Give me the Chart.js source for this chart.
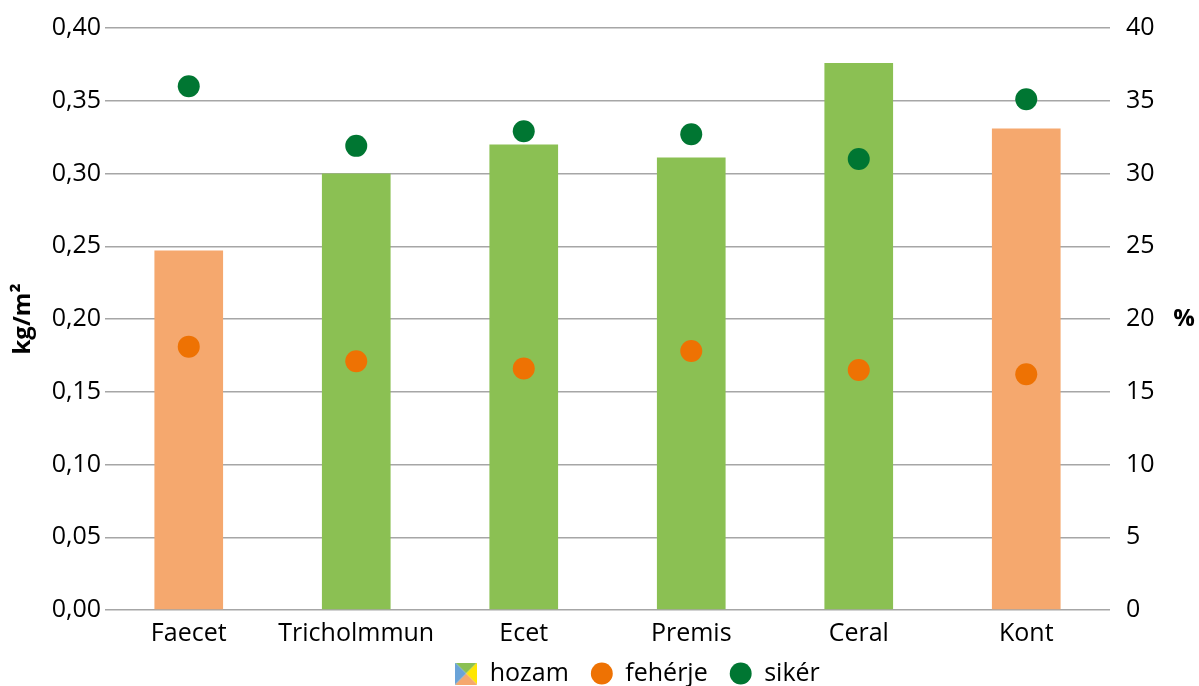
<!DOCTYPE html>
<html>
<head>
<meta charset="utf-8">
<script src="https://cdn.jsdelivr.net/npm/chart.js@4.4.0/dist/chart.umd.min.js"></script>
<style>
  html, body { margin: 0; padding: 0; background: #fff; }
  #wrap { width: 1199px; height: 686px; }
</style>
</head>
<body>
<div id="wrap"><canvas id="chart" width="1199" height="686"></canvas></div>
<script>
const categories = ['Faecet', 'Tricholmmun', 'Ecet', 'Premis', 'Ceral', 'Kont'];
const hozam = [0.247, 0.300, 0.320, 0.311, 0.376, 0.331];
const feherje = [18.1, 17.1, 16.6, 17.8, 16.5, 16.2];
const siker = [36.0, 31.9, 32.9, 32.7, 31.0, 35.1];
const leftTicks = [0, 0.05, 0.10, 0.15, 0.20, 0.25, 0.30, 0.35, 0.40];
const rightTicks = [0, 5, 10, 15, 20, 25, 30, 35, 40];

const peach = '#F5A86E';
const lightGreen = '#8BC053';
const orange = '#EE7203';
const darkGreen = '#007632';
const barColors = ['peach', 'green', 'green', 'green', 'green', 'peach'].map(c => c === 'peach' ? peach : lightGreen);

const FONT = "'Open Sans', sans-serif";

// legend icon for hozam: square split in four triangles
function makeHozamIcon() {
  const c = document.createElement('canvas');
  c.width = 22; c.height = 22;
  const g = c.getContext('2d');
  const tri = (pts, col) => {
    g.beginPath();
    g.moveTo(11, 11);
    pts.forEach(p => g.lineTo(p[0], p[1]));
    g.closePath();
    g.fillStyle = col;
    g.fill();
  };
  tri([[0, 0], [22, 0]], lightGreen);
  tri([[22, 0], [22, 22]], '#FFE600');
  tri([[22, 22], [0, 22]], peach);
  tri([[0, 22], [0, 0]], '#6AA3D8');
  return c;
}
const hozamIcon = makeHozamIcon();

const percentLabel = {
  id: 'percentLabel',
  afterLayout(chart) {
    // legend sits a bit right of the canvas centre in the original
    chart.legend.left += 38;
    chart.legend.right += 38;
  },
  afterDraw(chart) {
    const ctx = chart.ctx;
    const area = chart.chartArea;
    ctx.save();
    ctx.font = 'bold 24px ' + FONT;
    ctx.fillStyle = '#000';
    ctx.textAlign = 'center';
    ctx.textBaseline = 'middle';
    ctx.fillText('%', 1184, (area.top + area.bottom) / 2);
    ctx.restore();
  }
};

const tickFont = { family: FONT, size: 25 };

new Chart(document.getElementById('chart'), {
  type: 'bar',
  data: {
    labels: categories,
    datasets: [
      {
        label: 'hozam',
        data: hozam,
        backgroundColor: barColors,
        yAxisID: 'y',
        barPercentage: 0.41,
        categoryPercentage: 1,
        order: 2
      },
      {
        type: 'line',
        label: 'fehérje',
        data: feherje,
        yAxisID: 'y1',
        showLine: false,
        pointRadius: 11,
        pointHoverRadius: 11,
        pointBackgroundColor: orange,
        pointBorderWidth: 0,
        order: 1
      },
      {
        type: 'line',
        label: 'sikér',
        data: siker,
        yAxisID: 'y1',
        showLine: false,
        pointRadius: 11,
        pointHoverRadius: 11,
        pointBackgroundColor: darkGreen,
        pointBorderWidth: 0,
        order: 0
      }
    ]
  },
  options: {
    responsive: false,
    animation: false,
    layout: { padding: { top: 28, left: 0, right: 0, bottom: -10 } },
    plugins: {
      tooltip: { enabled: false },
      legend: {
        position: 'bottom',
        labels: {
          color: '#000',
          font: { family: FONT, size: 25 },
          usePointStyle: true,
          boxWidth: 22,
          boxHeight: 15.5,
          padding: 22,
          generateLabels(chart) {
            return [
              { text: 'hozam', pointStyle: hozamIcon, fillStyle: lightGreen, lineWidth: 0, datasetIndex: 0 },
              { text: 'fehérje', pointStyle: 'circle', fillStyle: orange, strokeStyle: orange, lineWidth: 0, datasetIndex: 1 },
              { text: 'sikér', pointStyle: 'circle', fillStyle: darkGreen, strokeStyle: darkGreen, lineWidth: 0, datasetIndex: 2 }
            ];
          }
        }
      }
    },
    scales: {
      x: {
        grid: { display: false },
        border: { display: false },
        ticks: { color: '#000', font: tickFont, padding: 1, maxRotation: 0 },
        afterFit(s) {
          s.height = 29;
          // labels reach below the short axis box, so don't clip them
          s._computeLabelArea = () => undefined;
        }
      },
      y: {
        position: 'left',
        min: 0,
        max: 0.4,
        afterBuildTicks(s) { s.ticks = leftTicks.map(v => ({ value: v })); },
        ticks: {
          color: '#000',
          font: tickFont,
          padding: 4,
          callback: v => v.toFixed(2).replace('.', ',')
        },
        grid: { color: '#A6A6A6', lineWidth: 1.5, drawTicks: false },
        border: { display: false },
        title: {
          display: true,
          text: 'kg/m²',
          color: '#000',
          font: { family: FONT, size: 24, weight: 'bold' },
          padding: { top: 9, bottom: 0 }
        },
        afterFit(s) { s.width = 105; s.paddingTop = 0; s.paddingBottom = 0; }
      },
      y1: {
        position: 'right',
        min: 0,
        max: 40,
        afterBuildTicks(s) { s.ticks = rightTicks.map(v => ({ value: v })); },
        ticks: { color: '#000', font: tickFont, padding: 16 },
        grid: { display: false, drawTicks: false },
        border: { display: false },
        afterFit(s) { s.width = 89; s.paddingTop = 0; s.paddingBottom = 0; }
      }
    }
  },
  plugins: [percentLabel]
});
</script>
</body>
</html>
